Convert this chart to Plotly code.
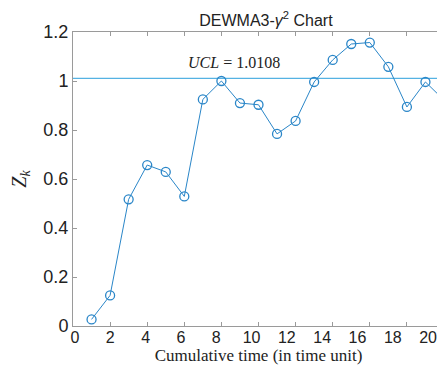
import plotly.graph_objects as go

# ---- data ----
time_k = [1, 2, 3, 4, 5, 6, 7, 8, 9, 10, 11, 12, 13, 14, 15, 16, 17, 18, 19, 20]
z_k = [0.027, 0.125, 0.517, 0.657, 0.629, 0.529, 0.925, 1.000, 0.910, 0.903,
       0.784, 0.837, 0.996, 1.086, 1.151, 1.157, 1.058, 0.894, 0.996, 0.922]
ucl = 1.0108
x_ticks = [0, 2, 4, 6, 8, 10, 12, 14, 16, 18, 20]
y_ticks = [0, 0.2, 0.4, 0.6, 0.8, 1.0, 1.2]
y_ticktext = ["0", "0.2", "0.4", "0.6", "0.8", "1", "1.2"]

line_color = "#2a86c8"
ucl_color = "#55b2e3"
axis_color = "#9a9a9a"
serif = "Liberation Serif, Times New Roman, serif"
sans = "Liberation Sans, Arial, sans-serif"

fig = go.Figure()
fig.add_trace(go.Scatter(
    x=time_k, y=z_k, mode="lines+markers",
    line=dict(color=line_color, width=1),
    marker=dict(symbol="circle-open", size=9, color=line_color, line=dict(width=1.3)),
    cliponaxis=False, showlegend=False, hoverinfo="x+y"))
# invisible carrier for the label axis
fig.add_trace(go.Scatter(x=time_k, y=z_k, xaxis="x2", mode="markers",
                         marker=dict(opacity=0), showlegend=False, hoverinfo="skip"))

fig.add_shape(type="line", xref="paper", x0=0, x1=1, yref="y", y0=ucl, y1=ucl,
              line=dict(color=ucl_color, width=1.3), layer="below")

fig.add_annotation(x=6.1, y=1.075, xref="x", yref="y", xanchor="left", yanchor="middle",
                   text="<i>UCL</i> = %.4f" % ucl, showarrow=False,
                   font=dict(family=serif, size=16, color="#222"))

# the page body has an 8px default margin, so the figure is sized to fill the rest
fig.update_layout(
    width=437, height=365,
    margin=dict(l=65, r=1, t=24, b=47, autoexpand=False),
    paper_bgcolor="white", plot_bgcolor="white",
    title=dict(text="DEWMA3-<i>γ</i><sup>2</sup> Chart", x=0.52, xref="paper", xanchor="center",
               y=1 - 12 / 365, yref="container", yanchor="middle",
               font=dict(family=sans, size=16, color="#222")),
    xaxis=dict(range=[0, 20], tickvals=x_ticks, showticklabels=False, automargin=False,
               ticks="inside", ticklen=4, tickcolor=axis_color,
               showline=True, linecolor=axis_color, linewidth=1, mirror="ticks",
               showgrid=False, zeroline=False),
    xaxis2=dict(overlaying="x", side="bottom", range=[-0.113, 20.9], tickvals=x_ticks,
                automargin=False,
                showline=False, ticks="", showgrid=False, zeroline=False,
                tickfont=dict(family=sans, size=16, color="#222"),
                title=dict(text="Cumulative time (in time unit)", standoff=0,
                           font=dict(family=serif, size=17, color="#222"))),
    yaxis=dict(range=[0, 1.2], tickvals=y_ticks, ticktext=y_ticktext, automargin=False,
               ticks="inside", ticklen=4, tickcolor=axis_color,
               showline=True, linecolor=axis_color, linewidth=1, mirror="ticks",
               showgrid=False, zeroline=False,
               tickfont=dict(family=sans, size=18, color="#222"),
               title=dict(text="<i>Z<sub>k</sub></i>", standoff=25,
                          font=dict(family=serif, size=20, color="#222"))),
)

fig.write_html("out.html")
